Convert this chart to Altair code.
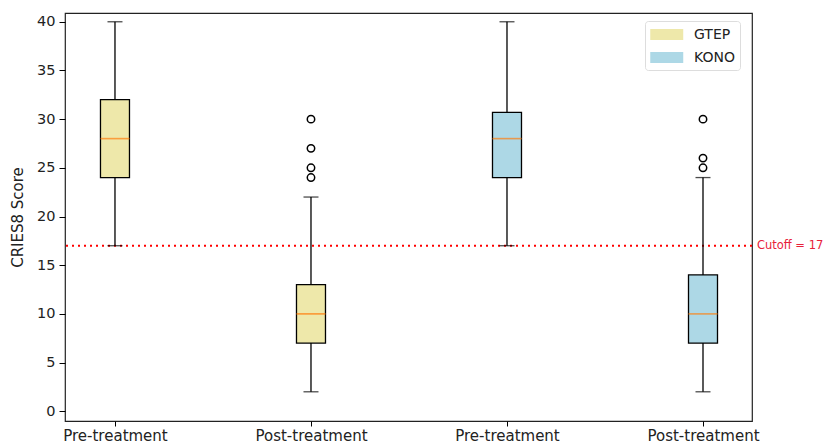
import altair as alt
import pandas as pd

# ---- data ----
groups = ["GTEP", "GTEP", "KONO", "KONO"]
phases = ["Pre-treatment", "Post-treatment", "Pre-treatment", "Post-treatment"]
positions = [1, 2, 3, 4]
whisker_low = [17, 2, 17, 2]
q1 = [24, 7, 24, 7]
median = [28, 10, 28, 10]
q3 = [32, 13, 30.7, 14]
whisker_high = [40, 22, 40, 24]

outlier_pos = [2, 2, 2, 2, 4, 4, 4]
outlier_val = [24, 25, 27, 30, 25, 26, 30]

cutoff = 17
y_ticks = [0, 5, 10, 15, 20, 25, 30, 35, 40]
colors = ["#EEE8AA", "#ADD8E6"]

boxes = pd.DataFrame({
    "group": groups, "phase": phases, "pos": positions,
    "low": whisker_low, "q1": q1, "median": median, "q3": q3, "high": whisker_high,
})
outliers = pd.DataFrame({"pos": outlier_pos, "value": outlier_val})
cut_df = pd.DataFrame({"y": [cutoff], "label": [f"Cutoff = {cutoff}"]})

FONT = "DejaVu Sans"
TXT = "#222222"
xscale = alt.Scale(domain=[0.745, 4.25], nice=False, zero=False, padding=0)
yscale = alt.Scale(domain=[-1.0, 40.9], nice=False, zero=False, padding=0)

label_expr = ("datum.value == 1 || datum.value == 3 ? 'Pre-treatment' : "
              "(datum.value == 2 || datum.value == 4 ? 'Post-treatment' : '')")

x_axis = alt.Axis(values=positions, labelExpr=label_expr, title=None, grid=False,
                  tickSize=5, tickColor="black", domain=False, labelFontSize=15,
                  labelColor=TXT, labelPadding=2, labelFont=FONT)
y_axis = alt.Axis(values=y_ticks, title="CRIES8 Score", grid=False, tickSize=6,
                  tickColor="black", domain=False, labelFontSize=14.5,
                  labelColor=TXT, labelPadding=4, labelFont=FONT,
                  titleFont=FONT, titleFontSize=15, titleFontWeight="normal",
                  titleColor=TXT, titlePadding=11)

base = alt.Chart(boxes)

whiskers = base.mark_rule(color="black", strokeWidth=1.3).encode(
    x=alt.X("pos:Q", scale=xscale, axis=x_axis),
    y=alt.Y("low:Q", scale=yscale, axis=y_axis),
    y2="high:Q",
)

caps_low = base.mark_tick(color="black", orient="horizontal", size=15, thickness=1.3).encode(
    x=alt.X("pos:Q", scale=xscale), y=alt.Y("low:Q", scale=yscale))
caps_high = base.mark_tick(color="black", orient="horizontal", size=15, thickness=1.3).encode(
    x=alt.X("pos:Q", scale=xscale), y=alt.Y("high:Q", scale=yscale))

box = base.mark_bar(size=29, stroke="black", strokeWidth=1.3, opacity=1).encode(
    x=alt.X("pos:Q", scale=xscale),
    y=alt.Y("q1:Q", scale=yscale),
    y2="q3:Q",
    fill=alt.Fill("group:N", scale=alt.Scale(domain=["GTEP", "KONO"], range=colors),
                  legend=alt.Legend(
                      title=None, orient="none", legendX=580, legendY=8,
                      symbolType="M-1,-0.68H3V0.68H-1Z", symbolSize=272,
                      symbolStrokeWidth=0, symbolOpacity=1,
                      labelFontSize=14, labelFont=FONT, labelColor=TXT,
                      labelOffset=27, rowPadding=7, padding=5,
                      fillColor="white", strokeColor="#dddddd", cornerRadius=3)),
)

med = base.mark_tick(color="#ff7f0e", orient="horizontal", size=29, thickness=1.6).encode(
    x=alt.X("pos:Q", scale=xscale), y=alt.Y("median:Q", scale=yscale))

pts = alt.Chart(outliers).mark_point(filled=False, color="black", size=55, strokeWidth=1.5,
                                     opacity=1).encode(
    x=alt.X("pos:Q", scale=xscale), y=alt.Y("value:Q", scale=yscale))

cut_rule = alt.Chart(cut_df).mark_rule(color="red", strokeDash=[2, 4], strokeWidth=1.8).encode(
    y=alt.Y("y:Q", scale=yscale))

cut_text = alt.Chart(cut_df).mark_text(color="#e8213a", align="left", baseline="middle",
                                       fontSize=11.5, font=FONT).encode(
    x=alt.datum(4.275, scale=xscale), y=alt.Y("y:Q", scale=yscale), text="label:N")

chart = alt.layer(cut_rule, whiskers, caps_low, caps_high, box, med, pts, cut_text).properties(
    width=687, height=408,
    background="white",
    autosize=alt.AutoSizeParams(type="none"),
    padding={"left": 57, "top": 5, "right": 71, "bottom": 30},
).configure_view(stroke="#222222", strokeWidth=1.2)

chart.save("out.html", embed_options={"renderer": "svg", "actions": False})
